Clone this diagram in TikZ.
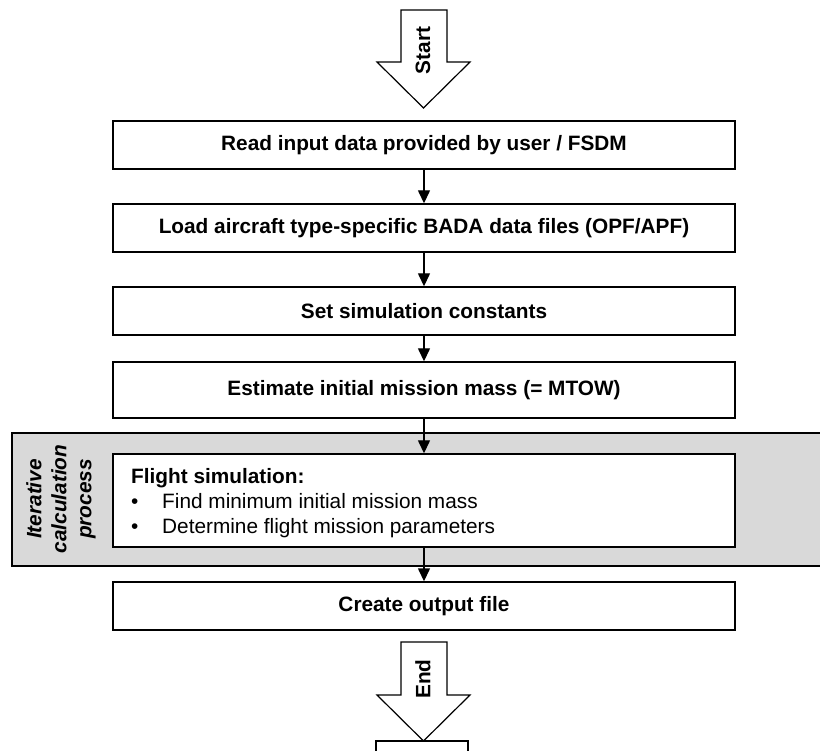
\documentclass[tikz,border=0pt]{standalone}
\usepackage{fontspec}
\setmainfont{Liberation Sans}
\usetikzlibrary{arrows.meta}
\definecolor{panelgrey}{RGB}{217,217,217}
\newcommand{\diagfs}{\fontsize{20.8}{25}\selectfont}
\begin{document}
\begin{tikzpicture}[x=1pt,y=-1pt,
  txt/.style={font=\diagfs},
  txtb/.style={font=\diagfs\bfseries},
  stepbox/.style={draw,line width=1.4pt,fill=white,minimum width=622pt,minimum height=48pt,inner sep=0pt,txtb},
  conn/.style={line width=1.4pt,-{Triangle[length=13pt,width=12pt]}},
  bigarrow/.style={draw,line width=1.2pt,fill=white,line join=miter},
]
\useasboundingbox (0,0) rectangle (820,751);
% grey panel
\fill[panelgrey] (12,433) rectangle (822,566);
\draw[line width=1.2pt] (822,433) -- (12,433) -- (12,566) -- (822,566);
\node[rotate=90,align=center,font=\diagfs\bfseries\itshape] (iter) at (61,499) {Iterative\\calculation\\process};

\node[stepbox] (b1) at (424,145) {Read input data provided by user / FSDM};
\node[stepbox] (b2) at (424,228) {Load aircraft type-specific BADA data files (OPF/APF)};
\node[stepbox] (b3) at (424,311) {Set simulation constants};
\node[stepbox,minimum height=56pt] (b4) at (424,390) {Estimate initial mission mass (= MTOW)};
\node[stepbox,minimum height=93pt] (b5) at (424,500.5) {};
\node[anchor=base west,inner sep=0pt,txtb] (f1) at (131,483) {Flight simulation:};
\node[anchor=base west,inner sep=0pt,txt] (f2) at (131,508) {\makebox[31pt][l]{•}Find minimum initial mission mass};
\node[anchor=base west,inner sep=0pt,txt] (f3) at (131,533) {\makebox[31pt][l]{•}Determine flight mission parameters};
\node[stepbox] (b6) at (424,606) {Create output file};

\draw[conn] (b1) -- (b2);
\draw[conn] (b2) -- (b3);
\draw[conn] (b3) -- (b4);
\draw[conn] (b4) -- (b5);
\draw[conn] (b5) -- (b6);

% start arrow
\draw[bigarrow] (401,10) -- (447,10) -- (447,62) -- (470,62) -- (423.5,108) -- (377,62) -- (401,62) -- cycle;
\node[rotate=90,txtb] (start) at (423,50.5) {Start};
% end arrow
\draw[bigarrow] (401,642) -- (447,642) -- (447,695) -- (470,695) -- (423.5,741) -- (377,695) -- (401,695) -- cycle;
\node[rotate=90,txtb] (end) at (423,679) {End};
% partial box at bottom
\coordinate (bl) at (376,760);
\coordinate (br) at (468,760);
\draw[line width=1.4pt] (bl) |- (423.5,741) -| (br);
\end{tikzpicture}
\end{document}
